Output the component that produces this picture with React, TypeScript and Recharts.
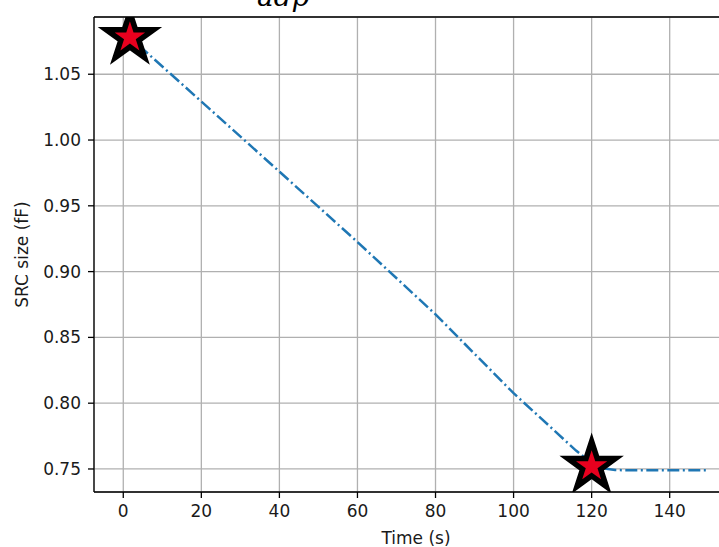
import {
  CartesianGrid,
  ComposedChart,
  Line,
  ReferenceLine,
  Scatter,
  XAxis,
  YAxis,
} from 'recharts'

// SRC size trace over time (fF vs s)
const timeSec = [0, 20, 40, 60, 80, 100, 110, 116, 120, 123, 126, 130, 140, 150]
const srcSize = [1.0825, 1.0293, 0.976, 0.9225, 0.8675, 0.8076, 0.7804, 0.764, 0.7545, 0.7505, 0.7492, 0.749, 0.749, 0.749]

// start / settle markers
const markerTime = [1.7, 120]
const markerSize = [1.078, 0.752]

const xTicks = [0, 20, 40, 60, 80, 100, 120, 140]
const yTicks = [0.75, 0.8, 0.85, 0.9, 0.95, 1.0, 1.05]
const xDomain = [-7.5, 157.5]
const yDomain = [0.7325, 1.0935]

const curve = timeSec.map((t, i) => ({ time: t, size: srcSize[i] }))
const markers = markerTime.map((t, i) => ({ time: t, size: markerSize[i] }))

const FONT = 'DejaVu Sans'
const tickStyle = { fill: '#1a1a1a', fontSize: 17, fontFamily: FONT }

const StarMark = (props: any) => {
  const { cx, cy } = props
  const R = 25
  const r = R * 0.382
  const pts: string[] = []
  for (let k = 0; k < 10; k++) {
    const rad = k % 2 === 0 ? R : r
    const a = -Math.PI / 2 + (k * Math.PI) / 5
    pts.push(`${cx + rad * Math.cos(a)},${cy + rad * Math.sin(a)}`)
  }
  return (
    <polygon
      points={pts.join(' ')}
      fill="#e8001e"
      stroke="#000"
      strokeWidth={5.5}
      strokeLinejoin="miter"
      strokeMiterlimit={10}
    />
  )
}

const YLabel = ({ viewBox }: any) => {
  const x = viewBox.x + 22
  const y = viewBox.y + viewBox.height / 2
  return (
    <text x={x} y={y} transform={`rotate(-90, ${x}, ${y})`} textAnchor="middle" dominantBaseline="central" fontSize={17} fontFamily={FONT} fill="#1a1a1a">
      SRC size (fF)
    </text>
  )
}

const XLabel = ({ viewBox }: any) => {
  const x = viewBox.x + viewBox.width / 2
  const y = viewBox.y + 46
  return (
    <text x={x} y={y} textAnchor="middle" dominantBaseline="central" fontSize={17} fontFamily={FONT} fill="#1a1a1a">
      Time (s)
    </text>
  )
}

export default function App() {
  return (
    <div style={{ position: 'absolute', left: 0, top: 0, width: 719, height: 547, overflow: 'hidden', background: '#fff' }}>
      <div
        style={{
          position: 'absolute',
          left: 257,
          top: -16.7,
          fontFamily: 'DejaVu Serif',
          fontStyle: 'italic',
          fontSize: 28,
          lineHeight: '28px',
          color: '#000',
          whiteSpace: 'nowrap',
        }}
      >
        adp
      </div>
      <ComposedChart width={760} height={547} margin={{ top: 17, right: 22, left: 0, bottom: 0 }}>
        <CartesianGrid stroke="#b0b0b0" strokeWidth={1.3} />
        <XAxis
          type="number"
          dataKey="time"
          domain={xDomain}
          ticks={xTicks}
          allowDataOverflow
          height={55}
          tick={tickStyle}
          tickSize={6}
          tickMargin={7}
          axisLine={{ stroke: '#000', strokeWidth: 1.3 }}
          tickLine={{ stroke: '#000', strokeWidth: 1.3 }}
          label={<XLabel />}
        />
        <YAxis
          type="number"
          dataKey="size"
          domain={yDomain}
          ticks={yTicks}
          allowDataOverflow
          width={94}
          tick={tickStyle}
          tickFormatter={(v: number) => v.toFixed(2)}
          tickSize={6}
          tickMargin={7}
          axisLine={{ stroke: '#000', strokeWidth: 1.3 }}
          tickLine={{ stroke: '#000', strokeWidth: 1.3 }}
          label={<YLabel />}
        />
        <ReferenceLine y={yDomain[1]} stroke="#000" strokeWidth={1.3} />
        <ReferenceLine x={xDomain[1]} stroke="#000" strokeWidth={1.3} />
        <Line
          data={curve}
          dataKey="size"
          type="linear"
          stroke="#1f77b4"
          strokeWidth={2.5}
          strokeDasharray="12 3.5 2 3.5"
          dot={false}
          isAnimationActive={false}
        />
        <Scatter data={markers} dataKey="size" shape={<StarMark />} isAnimationActive={false} />
      </ComposedChart>
    </div>
  )
}
